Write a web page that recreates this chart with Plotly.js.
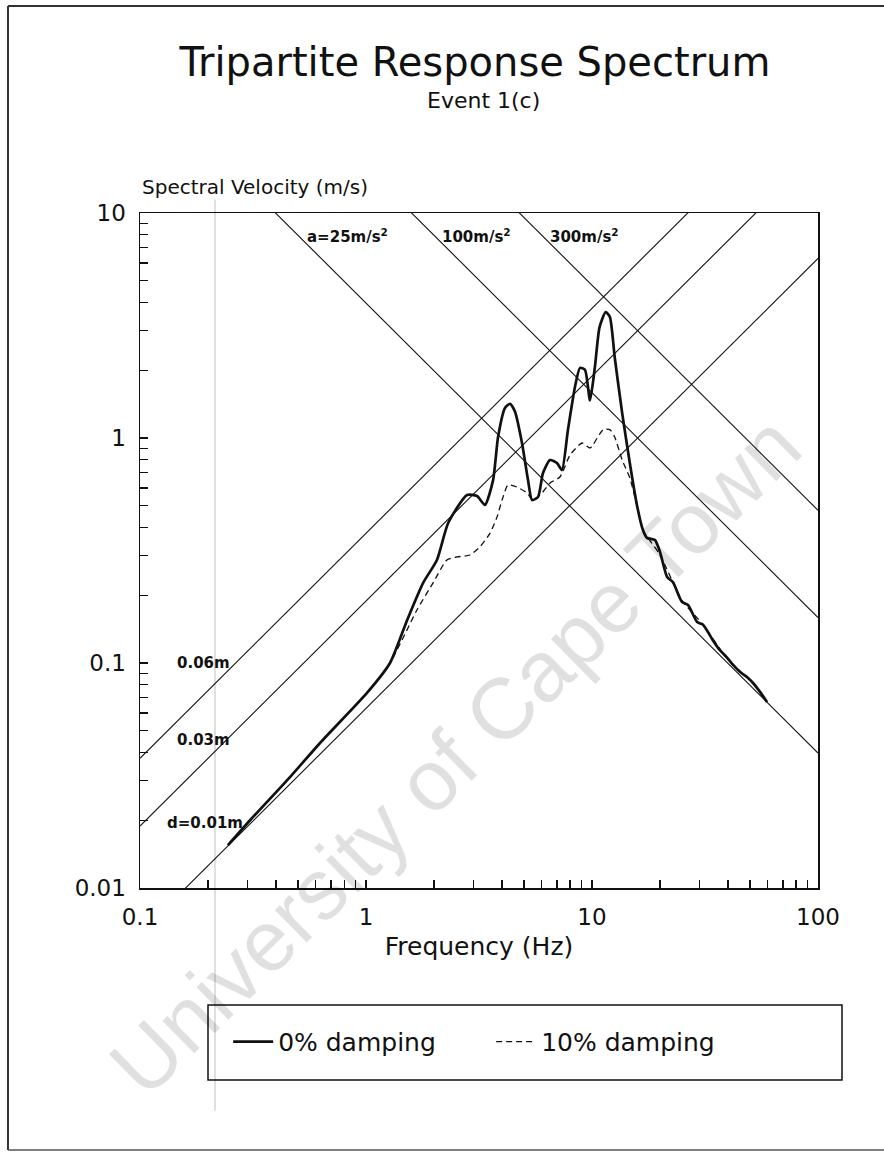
<!DOCTYPE html>
<html>
<head>
<meta charset="utf-8">
<script src="https://cdn.plot.ly/plotly-3.0.1.min.js"></script>
<style>html,body{margin:0;padding:0;background:#fff;}#chart{width:884px;height:1155px;}</style>
</head>
<body>
<div id="chart"></div>
<script>
// ---- data ----
const freq0 = [0.245,0.307,0.461,0.626,1.01,1.277,1.52,1.79,2.06,2.31,2.80,3.10,3.36,3.65,3.84,4.12,4.34,4.56,4.90,5.21,5.43,5.77,6.07,6.52,7.00,7.36,7.83,8.41,8.85,9.31,9.80,10.3,10.8,11.5,12.0,12.6,13.6,14.7,15.8,16.8,17.5,19.0,20.0,21.5,22.8,25.0,26.6,29.2,31.0,34.3,36.8,39.5,42.1,45.2,48.5,51.6,55.4,59.5];
const vel0  = [0.0155,0.0200,0.0311,0.0441,0.0736,0.100,0.155,0.227,0.287,0.419,0.558,0.552,0.504,0.650,1.01,1.36,1.42,1.31,0.95,0.650,0.530,0.547,0.699,0.798,0.774,0.721,1.09,1.69,2.05,2.01,1.47,2.07,3.11,3.63,3.45,2.29,1.29,0.774,0.504,0.390,0.360,0.352,0.311,0.241,0.229,0.187,0.181,0.152,0.148,0.126,0.114,0.106,0.0980,0.0912,0.0867,0.0815,0.0744,0.0671];
const freq10 = [0.245,0.307,0.461,0.626,1.01,1.277,1.68,1.98,2.28,2.53,2.88,3.19,3.54,3.80,4.00,4.25,4.66,5.16,5.48,6.01,6.52,7.21,8.00,9.03,9.80,11.2,12.0,12.6,13.6,14.7,15.8,16.8,20.0,25.0,31.0,39.5,51.6,59.5];
const vel10  = [0.0155,0.0200,0.0311,0.0441,0.0736,0.100,0.172,0.227,0.287,0.296,0.302,0.328,0.378,0.446,0.530,0.618,0.605,0.570,0.530,0.570,0.631,0.671,0.840,0.950,0.903,1.09,1.09,1.01,0.798,0.664,0.504,0.390,0.302,0.190,0.148,0.105,0.081,0.0671];

const seriesNames = ['0% damping', '10% damping'];

// tripartite grid lines
const dispValues = [0.01, 0.03, 0.06];              // m
const dispLabels = ['d=0.01m', '0.03m', '0.06m'];
const accValues  = [25, 100, 300];                  // m/s^2
const accLabels  = ['a=25m/s<sup>2</sup>', '100m/s<sup>2</sup>', '300m/s<sup>2</sup>'];

const xDecades = [0.1, 1, 10, 100];
const xDecadeLabels = ['0.1', '1', '10', '100'];
const yDecades = [0.01, 0.1, 1, 10];
const yDecadeLabels = ['0.01', '0.1', '1', '10'];

const titleText = 'Tripartite Response Spectrum';
const subtitleText = 'Event 1(c)';
const xTitle = 'Frequency (Hz)';
const yTitle = 'Spectral Velocity (m/s)';
const watermark = 'University of Cape Town';

// ---- build ----
const FONT = 'DejaVu Sans, Liberation Sans, Arial, sans-serif';
const fRange = [0.1, 100];

function minorTicks(decades) {
  const vals = [];
  for (let i = 0; i < decades.length - 1; i++) {
    for (let m = 2; m <= 9; m++) vals.push(+(decades[i] * m).toPrecision(3));
  }
  return vals;
}

const traces = [];
dispValues.forEach(d => {
  traces.push({x: fRange, y: fRange.map(f => 2 * Math.PI * f * d), mode: 'lines',
    line: {color: '#111', width: 1.1}, showlegend: false, hoverinfo: 'skip'});
});
accValues.forEach(a => {
  traces.push({x: fRange, y: fRange.map(f => a / (2 * Math.PI * f)), mode: 'lines',
    line: {color: '#111', width: 1.1}, showlegend: false, hoverinfo: 'skip'});
});
traces.push({x: freq0, y: vel0, name: seriesNames[0], mode: 'lines',
  line: {color: '#111', width: 2.7, shape: 'spline', smoothing: 0.6}});
traces.push({x: freq10, y: vel10, name: seriesNames[1], mode: 'lines',
  line: {color: '#111', width: 1.3, dash: '6px,4px', shape: 'spline', smoothing: 0.6}});

const labelFont = {family: FONT, size: 15, color: '#111', weight: 'bold'};
function lab(text, x, y) {
  return {text, xref: 'paper', yref: 'paper', x, y, xanchor: 'left', yanchor: 'middle', showarrow: false, font: labelFont};
}
const annotations = [
  {text: subtitleText, xref: 'paper', yref: 'paper', x: 0.506, y: 1.167, xanchor: 'center', yanchor: 'middle',
   showarrow: false, font: {family: FONT, size: 22, color: '#111'}},
  {text: yTitle, xref: 'paper', yref: 'paper', x: 0.0, y: 1.0, xanchor: 'left', yanchor: 'bottom', yshift: 12,
   showarrow: false, font: {family: FONT, size: 20, color: '#111'}},
  lab(dispLabels[2], 0.0516, 0.333),
  lab(dispLabels[1], 0.0516, 0.219),
  lab(dispLabels[0], 0.0369, 0.0963),
  lab(accLabels[0], 0.243, 0.966),
  lab(accLabels[1], 0.442, 0.966),
  lab(accLabels[2], 0.602, 0.966),
  {text: watermark, xref: 'paper', yref: 'paper', x: 0.4646, y: 0.197, xanchor: 'center', yanchor: 'middle',
   showarrow: false, textangle: -44.5,
   font: {family: 'Liberation Sans, Arial, sans-serif', size: 86, color: 'rgba(0,0,0,0.12)'}}
];

const shapes = [
  // legend frame
  {type: 'rect', xref: 'paper', yref: 'paper', x0: 0.1003, x1: 1.0354, y0: -0.2844, y1: -0.1733,
   line: {color: '#111', width: 1.5}},
  // page border of the scanned sheet
  {type: 'line', xref: 'paper', yref: 'paper', x0: -0.1947, x1: -0.1947, y0: -0.388, y1: 1.3067, line: {color: '#333', width: 2}},
  {type: 'line', xref: 'paper', yref: 'paper', x0: -0.1947, x1: 1.1, y0: 1.3067, y1: 1.3067, line: {color: '#333', width: 2}},
  {type: 'line', xref: 'paper', yref: 'paper', x0: -0.1947, x1: 1.1, y0: -0.388, y1: -0.388, line: {color: '#555', width: 1.5}},
  // faint vertical scan line
  {type: 'line', xref: 'paper', yref: 'paper', x0: 0.1106, x1: 0.1106, y0: -0.33, y1: 1.02, line: {color: 'rgba(0,0,0,0.25)', width: 1}}
];

const axisCommon = {
  type: 'log', showgrid: false, zeroline: false, showline: true, mirror: true,
  linecolor: '#111', linewidth: 1.5, ticks: 'inside', ticklen: 8, tickwidth: 1.2, tickcolor: '#111',
  tickfont: {family: FONT, size: 23, color: '#111'}, tickmode: 'array', tickangle: 0, ticklabelstandoff: 8
};

const layout = {
  width: 884, height: 1155,
  margin: {l: 140, r: 66, t: 213, b: 267},
  paper_bgcolor: '#fff', plot_bgcolor: '#fff',
  font: {family: FONT, color: '#111'},
  title: {text: titleText, xref: 'paper', x: 0.494, xanchor: 'center', yref: 'container', y: 0.946, yanchor: 'middle',
          font: {family: FONT, size: 40, color: '#111'}},
  xaxis: Object.assign({}, axisCommon, {range: [-1, 2], tickvals: xDecades, ticktext: xDecadeLabels,
          minor: {tickmode: 'array', tickvals: minorTicks(xDecades), ticks: 'inside', ticklen: 8, tickwidth: 1.2, tickcolor: '#111', showgrid: false},
          title: {text: xTitle, font: {family: FONT, size: 25, color: '#111'}, standoff: 8}}),
  yaxis: Object.assign({}, axisCommon, {range: [-2, 1], tickvals: yDecades, ticktext: yDecadeLabels,
          minor: {tickmode: 'array', tickvals: minorTicks(yDecades), ticks: 'inside', ticklen: 8, tickwidth: 1.2, tickcolor: '#111', showgrid: false},
          title: {text: ''}}),
  showlegend: true,
  legend: {orientation: 'h', x: 0.13, xanchor: 'left', y: -0.228, yanchor: 'middle',
           font: {family: FONT, size: 25, color: '#111'}, bgcolor: 'rgba(0,0,0,0)', borderwidth: 0,
           entrywidth: 208, entrywidthmode: 'pixels', itemwidth: 40},
  annotations, shapes
};

Plotly.newPlot('chart', traces, layout, {displayModeBar: false, staticPlot: true});
</script>
</body>
</html>
